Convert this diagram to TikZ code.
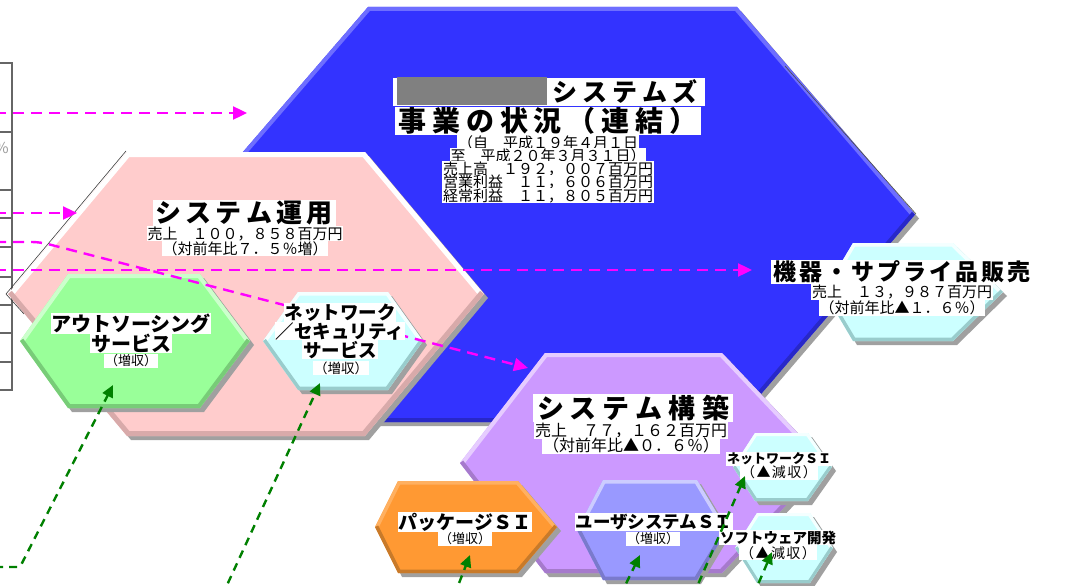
\documentclass[tikz,border=0pt]{standalone}
\usepackage{fontspec}
\setmainfont{Noto Sans CJK JP}
\usetikzlibrary{arrows.meta}
\definecolor{hblue}{HTML}{3333FF}\definecolor{hbluel}{HTML}{6E6EFF}\definecolor{hblued}{HTML}{2828C8}
\definecolor{hpink}{HTML}{FFCCCC}\definecolor{hpinkl}{HTML}{FFFFFF}\definecolor{hpinkd}{HTML}{D8AAAA}
\definecolor{hgreen}{HTML}{99FF99}\definecolor{hgreenl}{HTML}{CCFFCC}\definecolor{hgreend}{HTML}{78CC78}
\definecolor{hcyan}{HTML}{CCFFFF}\definecolor{hcyanl}{HTML}{F4FFFF}\definecolor{hcyand}{HTML}{99CCCC}
\definecolor{hpurp}{HTML}{CC99FF}\definecolor{hpurpl}{HTML}{E6CCFF}\definecolor{hpurpd}{HTML}{A67ACC}
\definecolor{horange}{HTML}{FF9933}\definecolor{horangel}{HTML}{FFB060}\definecolor{horanged}{HTML}{C87A2A}
\definecolor{hperi}{HTML}{9999FF}\definecolor{hperil}{HTML}{CCCCFF}\definecolor{hperid}{HTML}{7A7ACC}
\definecolor{shadowgray}{HTML}{A0A0A0}
\definecolor{mag}{HTML}{FF00FF}
\definecolor{agreen}{HTML}{008000}
\makeatletter
\newcommand\spreadchars[2]{\@tfor\spr@c:=#2\do{\makebox[#1]{\spr@c}}}
\makeatother
\newcommand\fsz[1]{\fontsize{#1}{#1}\selectfont}
\setlength\fboxsep{0.6pt}
\newcommand\wl[1]{\colorbox{white}{#1}}
\def\bw{8pt}
% lx, cy, tlx, trx, rx, h, main, light, dark
\newcommand\bevhex[9]{%
  \begin{scope}[shift={(4,4)}]
    \fill[shadowgray] (#1,#2) -- (#3,#2-#6) -- (#4,#2-#6) -- (#5,#2) -- (#4,#2+#6) -- (#3,#2+#6) -- cycle;
  \end{scope}
  \fill[#7] (#1,#2) -- (#3,#2-#6) -- (#4,#2-#6) -- (#5,#2) -- (#4,#2+#6) -- (#3,#2+#6) -- cycle;
  \begin{scope}
    \clip (#1,#2) -- (#3,#2-#6) -- (#4,#2-#6) -- (#5,#2) -- (#4,#2+#6) -- (#3,#2+#6) -- cycle;
    \draw[#8, line width=\bw] (#1,#2) -- (#3,#2-#6) -- (#4,#2-#6) -- (#5,#2);
    \draw[#9, line width=\bw] (#5,#2) -- (#4,#2+#6) -- (#3,#2+#6) -- (#1,#2);
  \end{scope}}
\tikzset{
  txt/.style={fill=white, inner sep=0.6pt, text=black},
  bare/.style={inner sep=0pt, text=black},
  block/.style={inner sep=0pt, text=black, align=center},
  magarrow/.style={draw=mag, line width=2.4pt, dash pattern=on 11pt off 7pt, -{Triangle[length=14pt,width=13pt]}},
  grnarrow/.style={draw=agreen, line width=2.4pt, dash pattern=on 8pt off 6pt, -{Triangle[length=12pt,width=11pt]}},
  tableline/.style={draw=black!60, line width=1.3pt}
}
\begin{document}
\begin{tikzpicture}[x=1pt,y=-1pt]
\useasboundingbox (0,0) rectangle (1066,586);
\clip (0,0) rectangle (1066,586);
\fill[white] (0,0) rectangle (1066,586);

% left table edge
\draw[tableline] (0,63) -- (12,63) -- (12,390) -- (0,390);
\foreach \yy in {132,190,218,247,277,305,333,362} \draw[tableline] (0,\yy) -- (12,\yy);
\node[bare, text=black!40, font=\fsz{15}, anchor=east] (pct) at (9,148) {\%};

% hexagons
\def\bw{8pt}
\bevhex{189}{214.5}{368}{737}{915}{207.5}{hblue}{hbluel}{hblued}
\draw[black!70, line width=0.6pt] (785,66) -- (916,214);
\def\bw{10pt}
\bevhex{8}{294}{127}{365}{484}{142}{hpink}{hpinkl}{hpinkd}
\draw[black!75, line width=0.6pt] (24,314) -- (6,294) -- (126,151);
\def\bw{8pt}
\bevhex{20}{341}{68}{200}{250}{67}{hgreen}{hgreenl}{hgreend}
\def\bw{7pt}
\bevhex{263}{341}{298}{388}{423}{49}{hcyan}{hcyanl}{hcyand}
\bevhex{824}{292}{853}{953}{1003}{49}{hcyan}{hcyanl}{hcyand}
\def\bw{8pt}
\bevhex{460}{463}{545}{722}{826}{110}{hpurp}{hpurpl}{hpurpd}
\def\bw{7pt}
\bevhex{375}{527}{398}{518}{557}{46}{horange}{horangel}{horanged}
\bevhex{577}{530}{603}{697}{727}{50}{hperi}{hperil}{hperid}
\def\bw{6pt}
\bevhex{733}{467}{755}{808}{832}{34}{hcyan}{hcyanl}{hcyand}
\bevhex{735}{548}{757}{810}{833}{35}{hcyan}{hcyanl}{hcyand}

% magenta arrows
\coordinate (m1s) at (-5,113); \coordinate (m1e) at (247,113);
\coordinate (m2s) at (-5,213); \coordinate (m2e) at (77,213);
\coordinate (m3s) at (-5,242); \coordinate (m3c) at (40,242); \coordinate (m3e) at (528,368);
\coordinate (m4s) at (-5,270); \coordinate (m4e) at (752,270);
\draw[magarrow] (m1s) -- (m1e);
\draw[magarrow] (m2s) -- (m2e);
\draw[magarrow, rounded corners=8pt] (m3s) -- (m3c) -- (m3e);
\draw[magarrow] (m4s) -- (m4e);

% main title
\fill[white] (393,78) rectangle (705,106);
\fill[black!50] (397,77) rectangle (547,105);
\node[bare, font=\fsz{25}\bfseries] (t1) at (625,92) {\spreadchars{30pt}{システムズ}};
\node[txt, font=\fsz{28}\bfseries] (t2) at (548,121) {\spreadchars{33.8pt}{事業の状況（連結）}};
\node[block, font={\fontsize{15}{13.3}\selectfont\lineskiplimit=-30pt}] (t3) at (548,169)
  {\wl{（自　平成１９年４月１日}\\\wl{至　平成２０年３月３１日）}\\\wl{売上高　１９２，００７百万円}\\\wl{営業利益　１１，６０６百万円}\\\wl{経常利益　１１，８０５百万円}};

% pink
\node[txt, font=\fsz{26}\bfseries] (p1) at (244,213) {\spreadchars{30.3pt}{システム運用}};
\node[block, font={\fontsize{15}{15}\selectfont\lineskiplimit=-30pt}] (p2) at (245,241)
  {\wl{売上　１００，８５８百万円}\\\wl{（対前年比７．５％増）}};

% green
\node[block, font={\fontsize{20}{20}\selectfont\bfseries\lineskiplimit=-30pt}] (o1) at (131,333)
  {\wl{アウトソーシング}\\\wl{サービス}};
\node[txt, font=\fsz{13}] (o3) at (131,361) {（増収）};

% network security
\node[block, font={\fontsize{18.5}{19}\selectfont\bfseries\lineskiplimit=-30pt}] (n1) at (340,331)
  {\wl{ネットワーク}\\\wl{／セキュリティ}\\\wl{サービス}};
\node[txt, font=\fsz{13.5}] (n4) at (341,368) {（増収）};

% equipment
\node[txt, font=\fsz{23}\bfseries] (e1) at (902,272) {\spreadchars{26pt}{機器・サプライ品販売}};
\node[block, font={\fontsize{15}{16}\selectfont\lineskiplimit=-30pt}] (e2) at (902,300)
  {\wl{売上　１３，９８７百万円}\\\wl{（対前年比▲１．６％）}};

% purple
\node[txt, font=\fsz{27}\bfseries] (s1) at (633,408) {\spreadchars{33pt}{システム構築}};
\node[block, font={\fontsize{16}{15}\selectfont\lineskiplimit=-30pt}] (s2) at (631,438)
  {\wl{売上　７７，１６２百万円}\\\wl{（対前年比▲０．６％）}};

% orange
\node[txt, font=\fsz{19}\bfseries] (k1) at (465,522) {パッケージＳＩ};
\node[txt, font=\fsz{13}] (k2) at (465,539) {（増収）};
% periwinkle
\node[txt, font=\fsz{17.5}\bfseries] (u1) at (654,522) {ユーザシステムＳＩ};
\node[txt, font=\fsz{13}] (u2) at (653,539) {（増収）};
% small cyan
\node[block, font={\fontsize{13}{14}\selectfont\lineskiplimit=-30pt}] (w1) at (779,466)
  {\wl{\bfseries ネットワークＳＩ}\\\wl{\fontsize{14}{14}\selectfont\spreadchars{15.4pt}{（▲減収）}}};
\node[block, font={\fontsize{14.5}{15}\selectfont\lineskiplimit=-30pt}] (f1) at (778,545)
  {\wl{\bfseries ソフトウェア開発}\\\wl{\fontsize{14}{14}\selectfont\spreadchars{15.4pt}{（▲減収）}}};

% green arrows
\coordinate (g1s) at (-5,567); \coordinate (g1c) at (20,567); \coordinate (g1e) at (113,385);
\coordinate (g2s) at (222,596); \coordinate (g2e) at (320,383);
\coordinate (g3s) at (454,596); \coordinate (g3e) at (470,555);
\coordinate (g4s) at (620,596); \coordinate (g4e) at (640,555);
\coordinate (g5s) at (693,596); \coordinate (g5e) at (745,476);
\coordinate (g6s) at (753,596); \coordinate (g6e) at (772,552);
\draw[grnarrow, rounded corners=3pt] (g1s) -- (g1c) -- (g1e);
\draw[grnarrow] (g2s) -- (g2e);
\draw[grnarrow] (g3s) -- (g3e);
\draw[grnarrow] (g4s) -- (g4e);
\draw[grnarrow] (g5s) -- (g5e);
\draw[grnarrow] (g6s) -- (g6e);
\end{tikzpicture}
\end{document}
